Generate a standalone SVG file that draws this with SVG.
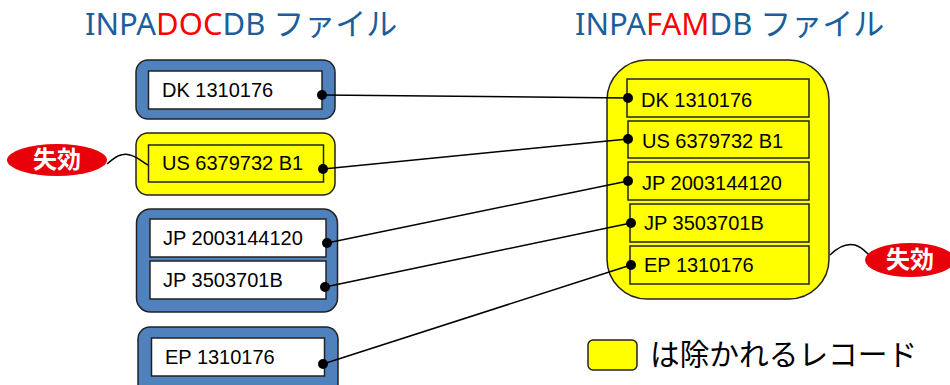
<svg xmlns="http://www.w3.org/2000/svg" width="950" height="385" viewBox="0 0 950 385">
<style>
.title{font-family:"Noto Sans","Noto Sans CJK JP",sans-serif;font-size:31px;fill:#1B5E9B}
.red{fill:#FF0000}
.blue{fill:#4F81BD;stroke:#222;stroke-width:1.5}
.yel{fill:#FFFF00;stroke:#222;stroke-width:1.5}
.white{fill:#FFFFFF;stroke:#222;stroke-width:1.5}
.inner{fill:#FFFF00;stroke:#222;stroke-width:1.5}
.t{font-family:"Liberation Sans",Arial,sans-serif;font-size:20px;fill:#000}
.conn{stroke:#000;stroke-width:1.5;fill:none}
.dot{fill:#000}
.badge{fill:#E8000B}
.bt{font-family:"Noto Sans CJK JP",sans-serif;font-weight:bold;font-size:24px;fill:#fff}
.leg{font-family:"Noto Sans CJK JP",sans-serif;font-size:29.7px;fill:#000}
</style>
<g id="title-left"><text class="title" x="85" y="35">INPA<tspan class="red">DOC</tspan>DB ファイル</text></g>
<g id="title-right"><text class="title" x="575" y="35">INPA<tspan class="red">FAM</tspan>DB ファイル</text></g>

<g id="doc-dk">
<rect class="blue" x="136" y="60" width="199" height="59" rx="12"/>
<rect class="white" x="148.5" y="71" width="173.5" height="38"/>
<text class="t" x="162" y="97">DK 1310176</text>
</g>
<g id="doc-us">
<rect class="yel" x="136" y="133" width="199" height="62" rx="12"/>
<rect class="inner" x="148.5" y="145" width="175" height="37"/>
<text class="t" x="162" y="170">US 6379732 B1</text>
</g>
<g id="doc-jp">
<rect class="blue" x="136.5" y="209" width="201" height="103" rx="14"/>
<rect class="white" x="150" y="219" width="176" height="38"/>
<text class="t" x="163" y="245">JP 2003144120</text>
<rect class="white" x="150" y="261" width="176" height="38"/>
<text class="t" x="163" y="287">JP 3503701B</text>
</g>
<g id="doc-ep">
<rect class="blue" x="138" y="327" width="200" height="70" rx="12"/>
<rect class="white" x="151.5" y="338" width="173" height="38"/>
<text class="t" x="165" y="364">EP 1310176</text>
</g>

<g id="fam">
<rect class="yel" x="607" y="60" width="222" height="239" rx="40"/>
<rect class="inner" x="627" y="79" width="182" height="38"/>
<text class="t" x="641" y="107">DK 1310176</text>
<rect class="inner" x="628" y="121" width="181" height="37"/>
<text class="t" x="642" y="148">US 6379732 B1</text>
<rect class="inner" x="628" y="162" width="181" height="38"/>
<text class="t" x="642" y="190">JP 2003144120</text>
<rect class="inner" x="630" y="204" width="179" height="38"/>
<text class="t" x="644" y="230">JP 3503701B</text>
<rect class="inner" x="630" y="246" width="179" height="38"/>
<text class="t" x="644" y="272">EP 1310176</text>
</g>

<g id="badge-left">
<path class="conn" d="M107,164 C115,157 122,152 130,155 C138,157 142,162 148,165"/>
<ellipse class="badge" cx="57" cy="160" rx="50" ry="16"/>
<text class="bt" x="57" y="168" text-anchor="middle">失効</text>
</g>
<g id="badge-right">
<path class="conn" d="M830,255 C838,247 846,243 855,245 C862,247 866,252 870,256"/>
<ellipse class="badge" cx="910" cy="260" rx="45" ry="17"/>
<text class="bt" x="910" y="268" text-anchor="middle">失効</text>
</g>

<g id="connectors">
<line class="conn" x1="322" y1="95" x2="628" y2="98"/>
<line class="conn" x1="323" y1="169" x2="628" y2="139"/>
<line class="conn" x1="327" y1="243" x2="628" y2="181"/>
<line class="conn" x1="325" y1="287" x2="631" y2="223"/>
<line class="conn" x1="323" y1="364" x2="631" y2="265"/>
<circle class="dot" cx="322" cy="95" r="5"/>
<circle class="dot" cx="323" cy="169" r="5"/>
<circle class="dot" cx="327" cy="243" r="5"/>
<circle class="dot" cx="325" cy="287" r="5"/>
<circle class="dot" cx="323" cy="364" r="5"/>
<circle class="dot" cx="628" cy="98" r="5"/>
<circle class="dot" cx="628" cy="139" r="5"/>
<circle class="dot" cx="628" cy="181" r="5"/>
<circle class="dot" cx="631" cy="223" r="5"/>
<circle class="dot" cx="631" cy="265" r="5"/>
</g>

<g id="legend">
<rect class="yel" x="588" y="340" width="49" height="30" rx="5"/>
<text class="leg" x="650" y="365">は除かれるレコード</text>
</g>
</svg>
